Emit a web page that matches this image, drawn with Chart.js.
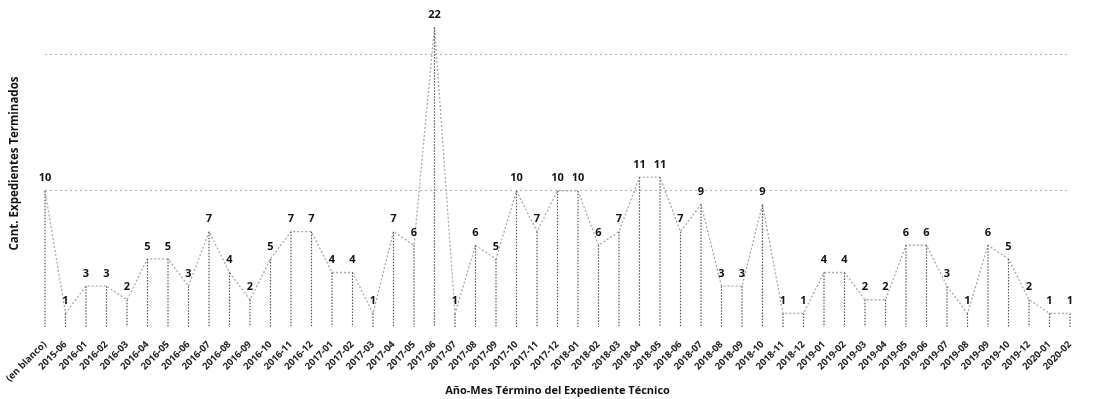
<!DOCTYPE html>
<html>
<head>
<meta charset="utf-8">
<script src="https://cdn.jsdelivr.net/npm/chart.js@4.4.1/dist/chart.umd.min.js"></script>
<style>
  html, body { margin: 0; padding: 0; background: #fff; }
  #wrap { width: 1098px; height: 399px; }
</style>
</head>
<body>
<div id="wrap"><canvas id="chart"></canvas></div>
<script>
const categories = ['(en blanco)', '2015-06', '2016-01', '2016-02', '2016-03', '2016-04', '2016-05', '2016-06',
    '2016-07', '2016-08', '2016-09', '2016-10', '2016-11', '2016-12', '2017-01', '2017-02', '2017-03',
    '2017-04', '2017-05', '2017-06', '2017-07', '2017-08', '2017-09', '2017-10', '2017-11', '2017-12',
    '2018-01', '2018-02', '2018-03', '2018-04', '2018-05', '2018-06', '2018-07', '2018-08', '2018-09',
    '2018-10', '2018-11', '2018-12', '2019-01', '2019-02', '2019-03', '2019-04', '2019-05', '2019-06',
    '2019-07', '2019-08', '2019-09', '2019-10', '2019-12', '2020-01', '2020-02'];
const terminados = [10, 1, 3, 3, 2, 5, 5, 3, 7, 4, 2, 5, 7, 7, 4, 4, 1, 7, 6, 22, 1, 6, 5, 10, 7, 10,
    10, 6, 7, 11, 11, 7, 9, 3, 3, 9, 1, 1, 4, 4, 2, 2, 6, 6, 3, 1, 6, 5, 2, 1, 1];
const gridValues = [10, 20];

const FONT = '"Open Sans", "Liberation Sans", sans-serif';

// drop lines from each point down to the axis, plus the value labels
const dropAndLabels = {
    id: 'dropAndLabels',
    afterDatasetsDraw(chart) {
        const ctx = chart.ctx;
        const meta = chart.getDatasetMeta(0);
        const base = chart.scales.y.getPixelForValue(0);
        ctx.save();
        ctx.strokeStyle = '#555';
        ctx.lineWidth = 1.2;
        ctx.setLineDash([1.5, 1.5]);
        meta.data.forEach(pt => {
            ctx.beginPath();
            ctx.moveTo(pt.x, pt.y);
            ctx.lineTo(pt.x, base);
            ctx.stroke();
        });
        ctx.setLineDash([]);
        ctx.fillStyle = '#111';
        ctx.font = 'bold 11px ' + FONT;
        ctx.textAlign = 'center';
        ctx.textBaseline = 'bottom';
        meta.data.forEach((pt, i) => {
            ctx.fillText(terminados[i], pt.x, pt.y - 7);
        });
        ctx.restore();
    }
};

new Chart(document.getElementById('chart'), {
    type: 'line',
    data: {
        labels: categories,
        datasets: [{
            data: terminados,
            borderColor: '#a8a8a8',
            borderWidth: 1.3,
            borderDash: [2, 2],
            pointRadius: 0,
            tension: 0,
            fill: false
        }]
    },
    options: {
        responsive: true,
        maintainAspectRatio: false,
        animation: false,
        layout: { padding: { left: 8, right: 28, top: 0, bottom: 0 } },
        plugins: {
            legend: { display: false },
            tooltip: { enabled: false }
        },
        scales: {
            x: {
                offset: false,
                grid: { display: false },
                border: { display: false },
                afterFit(scale) {
                    scale.height = 72;
                },
                ticks: {
                    autoSkip: false,
                    minRotation: 45,
                    maxRotation: 45,
                    padding: 4,
                    color: '#222',
                    font: { family: FONT, size: 9.5, weight: 'bold' }
                },
                title: {
                    display: true,
                    text: 'Año-Mes Término del Expediente Técnico',
                    color: '#111',
                    padding: { top: 0, bottom: 2 },
                    font: { family: FONT, size: 11, weight: 'bold' }
                }
            },
            y: {
                min: 0,
                max: 24,
                afterBuildTicks(scale) {
                    scale.ticks = gridValues.map(v => ({ value: v }));
                },
                afterFit(scale) {
                    scale.width = 37;
                },
                grid: {
                    color: '#b0b0b0',
                    lineWidth: 1,
                    drawTicks: false
                },
                border: { display: false, dash: [2, 3] },
                ticks: { display: false },
                title: {
                    display: true,
                    text: 'Cant. Expedientes Terminados',
                    color: '#111',
                    padding: { top: 0, bottom: 0 },
                    font: { family: FONT, size: 11.5, weight: 'bold' }
                }
            }
        }
    },
    plugins: [dropAndLabels]
});
</script>
</body>
</html>
